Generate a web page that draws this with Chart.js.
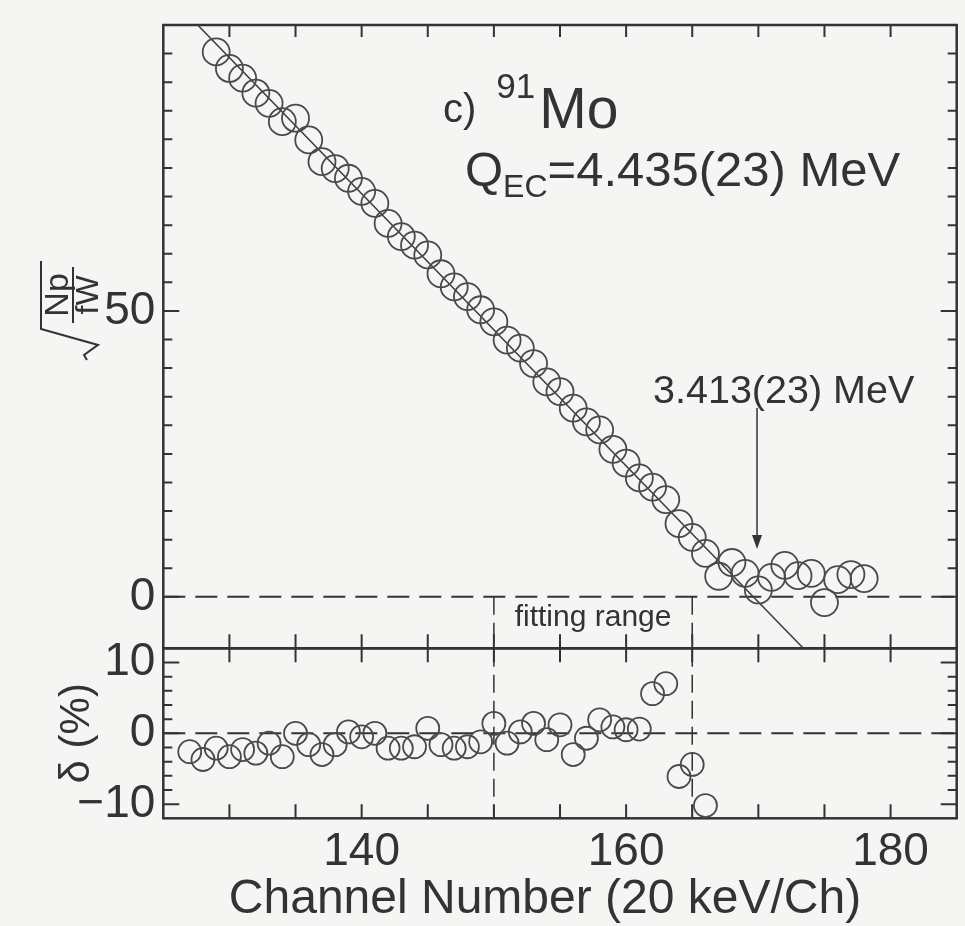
<!DOCTYPE html>
<html>
<head>
<meta charset="utf-8">
<script src="https://cdn.jsdelivr.net/npm/chart.js@4.4.1/dist/chart.umd.min.js"></script>
<style>
    html, body { margin: 0; padding: 0; background: #f5f5f3; }
    #wrap { width: 965px; height: 926px; }
</style>
</head>
<body>
<div id="wrap"><canvas id="chart" width="965" height="926"></canvas></div>
<script>
// 91Mo Fermi-Kurie style plot: sqrt(Np/fW) per channel + fit residuals
var spec_channels = [129, 130, 131, 132, 133, 134, 135, 136, 137, 138, 139, 140, 141, 142, 143, 144, 145,
    146, 147, 148, 149, 150, 151, 152, 153, 154, 155, 156, 157, 158, 159, 160, 161, 162, 163, 164, 165,
    166, 167, 168, 169, 170, 171, 172, 173, 174, 175, 176, 177, 178];
var spec_values = [95.3, 92.4, 90.7, 88.1, 86.3, 83.1, 83.7, 79.9, 76.1, 74.9, 73.2, 70.9, 68.8, 65.3, 63.0, 61.5, 59.8,
    56.5, 54.2, 52.5, 50.2, 48.1, 44.9, 43.5, 40.8, 37.6, 35.9, 33.0, 30.6, 29.2, 25.8, 23.4, 20.8, 19.2, 17.0, 12.8, 10.4,
    7.6, 3.6, 6.0, 4.1, 1.2, 3.4, 5.5, 3.7, 4.1, -1.0, 3.0, 3.9, 3.2];

var resid_channels = [127, 128, 129, 130, 131, 132, 133, 134, 135, 136, 137, 138, 139, 140, 141, 142, 143, 144,
    145, 146, 147, 148, 149, 150, 151, 152, 153, 154, 155, 156, 157, 158, 159, 160, 161, 162, 163, 164, 165, 166];
var resid_values = [-2.6, -3.7, -2.1, -3.3, -2.3, -2.8, -1.4, -3.3, 0.0, -1.6, -3.0, -1.6, 0.2, -0.5, 0.0, -2.1, -2.1, -1.9,
    0.7, -1.6, -2.1, -1.9, -1.2, 1.4, -1.4, 0.2, 1.4, -0.9, 1.2, -3.0, -0.7, 1.9, 0.9, 0.5, 0.6, 5.6, 7.0, -6.1, -4.4, -10.2];

var fit_channels = [127.6, 173.4];
var fit_values = [100, -9];

var x_labels = [140, 160, 180];
var top_labels = [0, 50];
var resid_labels = [-10, 0, 10];
var fit_range = [150, 165];
var endpoint_channel = 169.9;

var ink = "#333333";
var font_family = "'Liberation Sans', Arial, Helvetica, sans-serif";

Chart.defaults.font.family = font_family;
Chart.defaults.color = ink;

function to_points (xs, ys) {
    var pts = [];

    for (var i = 0; i < xs.length; i++) {
        pts.push({"x": xs[i], "y": ys[i]});
    }

    return pts;
}

function text_at (ctx, str, x, y, size, align) {
    ctx.font = size + "px " + font_family;
    ctx.textAlign = align || "left";
    ctx.textBaseline = "alphabetic";
    ctx.fillText(str, x, y);

    return ctx.measureText(str).width;
}

// keep chart area exactly where the frame is; no label overhang padding
function no_pad (scale) {
    scale.paddingTop = 0;
    scale.paddingBottom = 0;
    scale.paddingLeft = 0;
    scale.paddingRight = 0;
}

var panel_plugin = {
    "id": "panel_plugin",

    // the right frame edge sits ~8px from the canvas edge in the original
    "afterLayout": function (chart) {
        var x = chart.scales.x;
        var right = chart.width - 8.3;

        if (Math.abs(x.right - right) > 0.1) {
            x.right = right;
            x.width = right - x.left;
            x.configure();
            chart.chartArea.right = right;
            chart.chartArea.width = right - chart.chartArea.left;
        }
    },

    "beforeDraw": function (chart) {
        var ctx = chart.ctx;

        ctx.save();
        ctx.fillStyle = "#f5f5f3";
        ctx.fillRect(0, 0, chart.width, chart.height);
        ctx.restore();
    },

    "beforeDatasetsDraw": function (chart) {
        var ctx = chart.ctx;
        var x = chart.scales.x;
        var yt = chart.scales.yTop;
        var yr = chart.scales.yRes;

        ctx.save();
        ctx.strokeStyle = ink;
        ctx.lineWidth = 2;

        // dashed zero lines
        ctx.setLineDash([22, 10]);
        ctx.beginPath();
        ctx.moveTo(x.left, yt.getPixelForValue(0));
        ctx.lineTo(x.right, yt.getPixelForValue(0));
        ctx.moveTo(x.left, yr.getPixelForValue(0));
        ctx.lineTo(x.right, yr.getPixelForValue(0));
        ctx.stroke();

        // fitting range markers
        ctx.lineWidth = 1.5;
        ctx.setLineDash([18, 8]);
        ctx.beginPath();
        fit_range.forEach(function (ch) {
            var px = x.getPixelForValue(ch);

            ctx.moveTo(px, yt.getPixelForValue(0));
            ctx.lineTo(px, yr.bottom);
        });
        ctx.stroke();
        ctx.setLineDash([]);

        // frames
        ctx.lineWidth = 2.5;
        ctx.strokeRect(x.left, yt.top, x.right - x.left, yt.bottom - yt.top);
        ctx.strokeRect(x.left, yr.top, x.right - x.left, yr.bottom - yr.top);

        // x ticks on every panel edge, pointing inward
        ctx.lineWidth = 2;
        ctx.beginPath();
        x.ticks.forEach(function (t) {
            if (t.value <= x.min || t.value >= x.max) {
                return;
            }

            var px = x.getPixelForValue(t.value);

            [[yt.top, 12], [yt.bottom, -14], [yr.top, 14], [yr.bottom, -14]].forEach(function (e) {
                ctx.moveTo(px, e[0]);
                ctx.lineTo(px, e[0] + e[1]);
            });
        });

        // y ticks, both sides
        [[yt, 5, top_labels], [yr, 2, resid_labels]].forEach(function (s) {
            var scale = s[0];

            scale.ticks.forEach(function (t) {
                if (t.value <= scale.min || t.value >= scale.max || t.value % s[1] !== 0) {
                    return;
                }

                var py = scale.getPixelForValue(t.value);
                var len = s[2].indexOf(t.value) >= 0 ? 16 : 9;

                ctx.moveTo(x.left, py);
                ctx.lineTo(x.left + len, py);
                ctx.moveTo(x.right, py);
                ctx.lineTo(x.right - len, py);
            });
        });
        ctx.stroke();
        ctx.restore();
    },

    "afterDraw": function (chart) {
        var ctx = chart.ctx;
        var x = chart.scales.x;
        var yt = chart.scales.yTop;
        var yr = chart.scales.yRes;

        ctx.save();
        ctx.fillStyle = ink;
        ctx.strokeStyle = ink;

        // panel title
        var cx = 443;
        cx += text_at(ctx, "c)", cx, 122, 40);
        cx += 20;
        cx += text_at(ctx, "91", cx, 98, 35);
        text_at(ctx, "Mo", cx + 4, 128, 57);

        var qx = 465;
        qx += text_at(ctx, "Q", qx, 186, 49);
        qx += text_at(ctx, "EC", qx, 197, 32);
        text_at(ctx, "=4.435(23) MeV", qx, 186, 49);

        // endpoint annotation
        var ax = x.getPixelForValue(endpoint_channel);
        text_at(ctx, "3.413(23) MeV", 653, 403, 39.5);

        ctx.lineWidth = 1.5;
        ctx.beginPath();
        ctx.moveTo(ax, 408);
        ctx.lineTo(ax, 538);
        ctx.stroke();
        ctx.beginPath();
        ctx.moveTo(ax, 549);
        ctx.lineTo(ax - 5, 535);
        ctx.lineTo(ax + 5, 535);
        ctx.closePath();
        ctx.fill();

        text_at(ctx, "fitting range", (x.getPixelForValue(fit_range[0]) + x.getPixelForValue(fit_range[1])) / 2, 626, 30, "center");

        // x axis title
        text_at(ctx, "Channel Number (20 keV/Ch)", 545, 913, 48, "center");

        // y axis title, top: sqrt(Np / fW)
        ctx.save();
        ctx.translate(72, yt.getPixelForValue(50) - 10);
        ctx.rotate(-Math.PI / 2);
        text_at(ctx, "Np", 6, -4, 34, "center");
        text_at(ctx, "fW", 6, 26, 32, "center");
        ctx.lineWidth = 2;
        ctx.beginPath();
        ctx.moveTo(-22, 1);
        ctx.lineTo(34, 1);
        ctx.moveTo(40, -31);
        ctx.lineTo(-28, -31);
        ctx.lineTo(-44, 26);
        ctx.lineTo(-54, 12);
        ctx.lineTo(-59, 15);
        ctx.stroke();
        ctx.restore();

        // y axis title, bottom
        ctx.save();
        ctx.translate(89, yr.getPixelForValue(0));
        ctx.rotate(-Math.PI / 2);
        text_at(ctx, "\u03b4 (%)", 0, 0, 42, "center");
        ctx.restore();

        ctx.restore();
    }
};

var circle_style = {
    "showLine": false,
    "pointStyle": "circle",
    "backgroundColor": "rgba(0,0,0,0)",
    "borderColor": "#4a4a4a",
    "pointBorderWidth": 1.8
};

new Chart(document.getElementById("chart"), {
    "type": "scatter",
    "data": {
        "datasets": [
            Object.assign({
                "label": "spectrum",
                "data": to_points(spec_channels, spec_values),
                "yAxisID": "yTop",
                "pointRadius": 13.5
            }, circle_style),
            {
                "label": "fit",
                "data": to_points(fit_channels, fit_values),
                "yAxisID": "yTop",
                "showLine": true,
                "pointRadius": 0,
                "borderColor": "#3a3a3a",
                "borderWidth": 1.5
            },
            Object.assign({
                "label": "residual",
                "data": to_points(resid_channels, resid_values),
                "yAxisID": "yRes",
                "pointRadius": 11.5
            }, circle_style)
        ]
    },
    "options": {
        "responsive": false,
        "animation": false,
        "layout": {"padding": {"top": 25, "right": 8.3, "left": 0, "bottom": 0}},
        "plugins": {
            "legend": {"display": false},
            "tooltip": {"enabled": false},
            "title": {"display": false}
        },
        "scales": {
            "x": {
                "type": "linear",
                "position": "bottom",
                "min": 125,
                "max": 185,
                "grid": {"display": false, "drawTicks": false},
                "border": {"display": false},
                "afterFit": function (scale) { scale.height = 107.7; no_pad(scale); },
                "ticks": {
                    "stepSize": 5,
                    "autoSkip": false,
                    "maxRotation": 0,
                    "padding": 6,
                    "font": {"size": 46},
                    "color": ink,
                    "callback": function (value) {
                        return x_labels.indexOf(value) >= 0 ? String(value) : "";
                    }
                }
            },
            "yRes": {
                "type": "linear",
                "position": "left",
                "stack": "panels",
                "stackWeight": 170,
                "min": -12,
                "max": 12,
                "grid": {"display": false, "drawTicks": false},
                "border": {"display": false},
                "afterFit": function (scale) { scale.width = 163.3; no_pad(scale); },
                "ticks": {
                    "stepSize": 2,
                    "autoSkip": false,
                    "padding": 8,
                    "font": {"size": 46},
                    "color": ink,
                    "callback": function (value) {
                        if (resid_labels.indexOf(value) < 0) {
                            return "";
                        }

                        return value < 0 ? "\u2212" + Math.abs(value) : String(value);
                    }
                }
            },
            "yTop": {
                "type": "linear",
                "position": "left",
                "stack": "panels",
                "stackWeight": 623.3,
                "min": -9,
                "max": 100,
                "grid": {"display": false, "drawTicks": false},
                "border": {"display": false},
                "afterFit": function (scale) { scale.width = 163.3; no_pad(scale); },
                "ticks": {
                    "stepSize": 5,
                    "autoSkip": false,
                    "padding": 8,
                    "font": {"size": 46},
                    "color": ink,
                    "callback": function (value) {
                        return top_labels.indexOf(value) >= 0 ? String(value) : "";
                    }
                }
            }
        }
    },
    "plugins": [panel_plugin]
});
</script>
</body>
</html>
